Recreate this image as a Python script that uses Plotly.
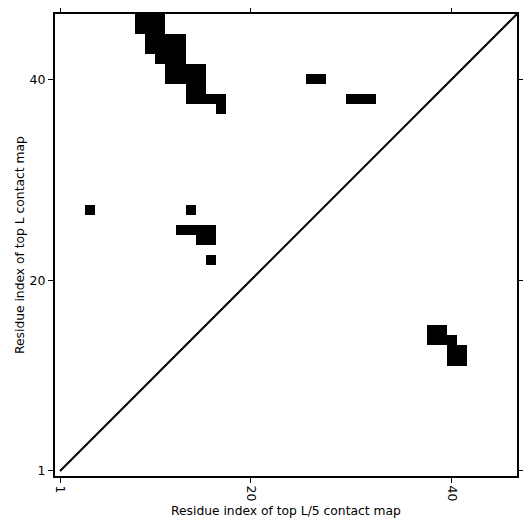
import numpy as np
import plotly.graph_objects as go

L = 46
tick_vals = [1, 20, 40]
tick_text = ["1", "20", "40"]

# contacts shown above the diagonal (top L contact map)
top_L_x = [9, 10, 11, 9, 10, 11,
           10, 11, 12, 13, 10, 11, 12, 13,
           11, 12, 13,
           12, 13, 14, 15, 12, 13, 14, 15,
           14, 15,
           14, 15, 16, 17,
           17,
           26, 27,
           30, 31, 32,
           4, 14,
           13, 14, 15, 16,
           15, 16,
           16]
top_L_y = [46, 46, 46, 45, 45, 45,
           44, 44, 44, 44, 43, 43, 43, 43,
           42, 42, 42,
           41, 41, 41, 41, 40, 40, 40, 40,
           39, 39,
           38, 38, 38, 38,
           37,
           40, 40,
           38, 38, 38,
           27, 27,
           25, 25, 25, 25,
           24, 24,
           22]

# contacts shown below the diagonal (top L/5 contact map)
top_L5_x = [38, 39, 38, 39, 40, 40, 41, 40, 41]
top_L5_y = [15, 15, 14, 14, 14, 13, 13, 12, 12]

x_title = "Residue index of top L/5 contact map"
y_title = "Residue index of top L contact map"

diag = [1, L + 1]

idx = np.arange(1, L + 1)
z = np.zeros((L, L))
for xx, yy in zip(top_L_x + top_L5_x, top_L_y + top_L5_y):
    z[yy - 1, xx - 1] = 1

fig = go.Figure()
fig.add_trace(go.Heatmap(
    x=idx, y=idx, z=z,
    colorscale=[[0, "white"], [1, "black"]],
    zmin=0, zmax=1, showscale=False, hoverinfo="skip",
))
fig.add_trace(go.Scatter(
    x=diag, y=diag, mode="lines",
    line=dict(color="black", width=2), showlegend=False,
))

axis_common = dict(
    range=[0.5, L + 0.5], automargin=False,
    tickmode="array", tickvals=tick_vals, ticktext=tick_text,
    showline=True, linecolor="black", linewidth=2, mirror="ticks",
    ticks="outside", ticklen=5, tickwidth=1, tickcolor="black",
    showgrid=False, zeroline=False,
    tickfont=dict(size=12.5, color="black"),
)

plot_px = 462
fig.update_layout(
    width=523, height=523,
    margin=dict(l=47, r=14, t=6, b=55, autoexpand=False),
    paper_bgcolor="white", plot_bgcolor="white",
    font=dict(family="DejaVu Sans", color="black"),
    showlegend=False,
    xaxis=dict(axis_common, tickangle=90),
    yaxis=dict(axis_common),
    annotations=[
        dict(text=x_title, xref="paper", yref="paper", x=0.5, y=-34.5 / plot_px,
             xanchor="center", yanchor="middle", showarrow=False,
             font=dict(size=12.3, color="black")),
        dict(text=y_title, xref="paper", yref="paper", x=-35 / plot_px, y=0.5,
             xanchor="center", yanchor="middle", showarrow=False, textangle=-90,
             font=dict(size=12.3, color="black")),
    ],
)

fig.write_html("out.html")
